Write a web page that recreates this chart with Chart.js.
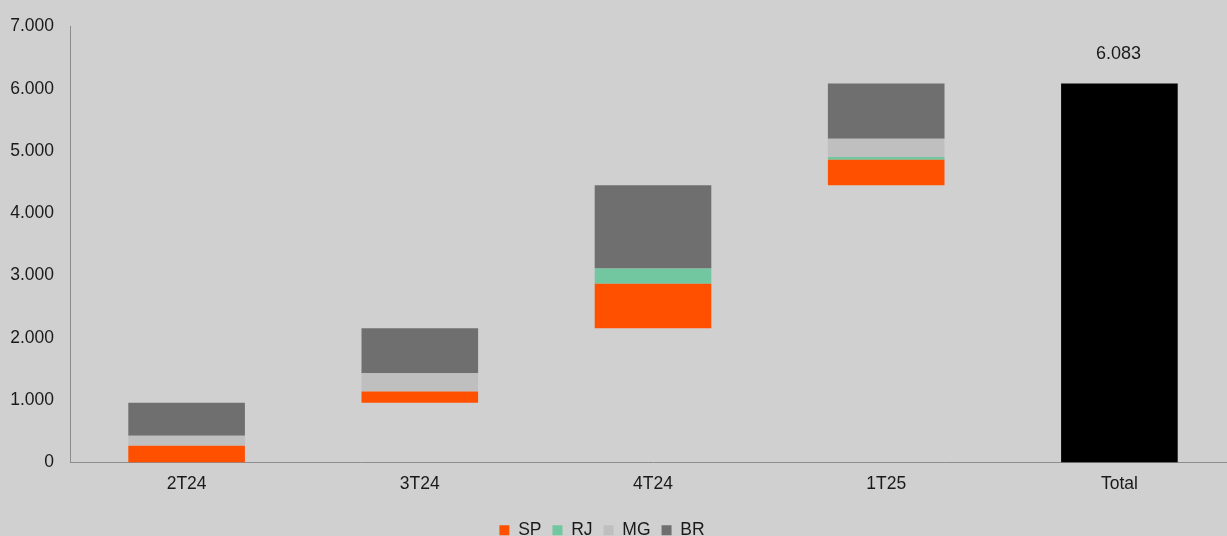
<!DOCTYPE html>
<html lang="pt-BR">
<head>
<meta charset="utf-8">
<title>Adições por trimestre</title>
<script src="https://cdn.jsdelivr.net/npm/chart.js@4.4.1/dist/chart.umd.min.js"></script>
<style>
  html, body { margin: 0; padding: 0; background: #d0d0d0; overflow: hidden; }
  #wrap { width: 1236px; height: 549px; position: relative; }
</style>
</head>
<body>
<div id="wrap"><canvas id="grafico"></canvas></div>
<script>
// trimestres + coluna de total
const categorias = ['2T24', '3T24', '4T24', '1T25', 'Total'];
const sp = [268, 177, 715, 412, null];
const rj = [0, 0, 246, 42, null];
const mg = [160, 295, 0, 295, null];
const br = [533, 721, 1335, 884, null];
const ticksY = [0, 1000, 2000, 3000, 4000, 5000, 6000, 7000];

function fmt(v) {
  return String(Math.round(v)).replace(/\B(?=(\d{3})+(?!\d))/g, '.');
}

// base invisível da cascata e total acumulado
const somaTri = categorias.slice(0, 4).map((_, i) => sp[i] + rj[i] + mg[i] + br[i]);
const base = [];
let acum = 0;
somaTri.forEach(v => { base.push(acum); acum += v; });
base.push(null);
const total = [null, null, null, null, acum];

const rotuloTotal = {
  id: 'rotuloTotal',
  afterDatasetsDraw(chart) {
    const idx = chart.data.datasets.findIndex(d => d.label === 'Total');
    const bar = chart.getDatasetMeta(idx).data[4];
    const ctx = chart.ctx;
    ctx.save();
    ctx.font = '18px "Liberation Sans", Arial, sans-serif';
    ctx.fillStyle = '#1a1a1a';
    ctx.textAlign = 'center';
    ctx.textBaseline = 'middle';
    ctx.fillText(fmt(total[4]), bar.x - 1, bar.y - 30);
    ctx.restore();
  }
};

// legenda um pouco à esquerda do centro
const deslocaLegenda = {
  id: 'deslocaLegenda',
  afterLayout(chart) {
    chart.legend.left -= 21;
    chart.legend.right -= 21;
  }
};

Chart.defaults.font.family = '"Liberation Sans", Arial, sans-serif';
Chart.defaults.font.size = 17.5;
Chart.defaults.color = '#1a1a1a';

new Chart(document.getElementById('grafico'), {
  type: 'bar',
  data: {
    labels: categorias,
    datasets: [
      { label: 'base', data: base, backgroundColor: 'rgba(0,0,0,0)' },
      { label: 'SP', data: sp, backgroundColor: '#ff5000' },
      { label: 'RJ', data: rj, backgroundColor: '#72c6a0' },
      { label: 'MG', data: mg, backgroundColor: '#bfbfbf' },
      { label: 'BR', data: br, backgroundColor: '#6f6f6f' },
      { label: 'Total', data: total, backgroundColor: '#000000' }
    ]
  },
  options: {
    responsive: true,
    maintainAspectRatio: false,
    animation: false,
    layout: { padding: { top: 16, right: 0, left: 10, bottom: 0 } },
    datasets: { bar: { categoryPercentage: 1, barPercentage: 0.5 } },
    scales: {
      x: {
        stacked: true,
        grid: { display: false, drawTicks: false },
        border: { display: true, color: '#8c8c8c', width: 1 },
        afterFit: axis => { axis.height += 5; },
        ticks: { padding: 11 }
      },
      y: {
        stacked: true,
        min: 0,
        max: 7000,
        grid: { display: false, drawTicks: false },
        border: { display: true, color: '#8c8c8c', width: 1 },
        afterBuildTicks: axis => { axis.ticks = ticksY.map(v => ({ value: v })); },
        afterFit: axis => { axis.width = 60; },
        ticks: { padding: 16, callback: v => fmt(v) }
      }
    },
    plugins: {
      tooltip: { enabled: false },
      legend: {
        position: 'bottom',
        labels: {
          boxWidth: 10,
          boxHeight: 10,
          padding: 11,
          filter: item => ['SP', 'RJ', 'MG', 'BR'].includes(item.text)
        }
      }
    }
  },
  plugins: [rotuloTotal, deslocaLegenda]
});
</script>
</body>
</html>
